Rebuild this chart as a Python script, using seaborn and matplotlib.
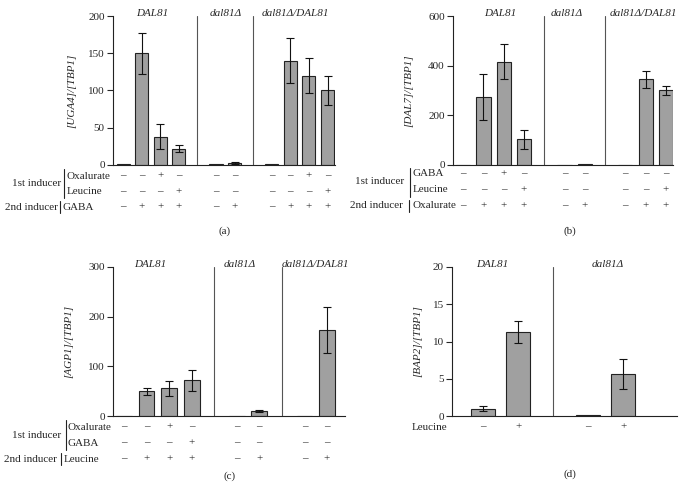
import matplotlib
matplotlib.use('Agg')
import matplotlib.pyplot as plt
import matplotlib.transforms as mtrans
from matplotlib.lines import Line2D
import numpy as np
import pandas as pd
import seaborn as sns

# (a) UGA4 / TBP1, 2nd inducer GABA
a_groups = ['DAL81', 'dal81Δ', 'dal81Δ/DAL81']
a_values = [[1, 150, 38, 22], [1, 3], [1, 140, 120, 100]]
a_low = [[np.nan, 122, 21, 18], [np.nan, 2, ], [np.nan, 110, 96, 80]]
a_high = [[np.nan, 177, 55, 27], [np.nan, 4], [np.nan, 170, 144, 120]]
a_rows = ['Oxalurate', 'Leucine', 'GABA']
a_signs = [
    [['–', '–', '+', '–'], ['–', '–'], ['–', '–', '+', '–']],
    [['–', '–', '–', '+'], ['–', '–'], ['–', '–', '–', '+']],
    [['–', '+', '+', '+'], ['–', '+'], ['–', '+', '+', '+']],
]

# (b) DAL7 / TBP1, 2nd inducer Oxalurate
b_groups = ['DAL81', 'dal81Δ', 'dal81Δ/DAL81']
b_values = [[2, 275, 415, 103], [2, 4], [2, 345, 300]]
b_low = [[np.nan, 180, 345, 65], [np.nan, np.nan], [np.nan, 312, 280]]
b_high = [[np.nan, 368, 488, 142], [np.nan, np.nan], [np.nan, 378, 320]]
b_rows = ['GABA', 'Leucine', 'Oxalurate']
b_signs = [
    [['–', '–', '+', '–'], ['–', '–'], ['–', '–', '–']],
    [['–', '–', '–', '+'], ['–', '–'], ['–', '–', '+']],
    [['–', '+', '+', '+'], ['–', '+'], ['–', '+', '+']],
]

# (c) AGP1 / TBP1, 2nd inducer Leucine
c_groups = ['DAL81', 'dal81Δ', 'dal81Δ/DAL81']
c_values = [[1, 50, 56, 72], [1, 10], [1, 173]]
c_low = [[np.nan, 43, 41, 51], [np.nan, 8], [np.nan, 126]]
c_high = [[np.nan, 57, 70, 92], [np.nan, 12], [np.nan, 219]]
c_rows = ['Oxalurate', 'GABA', 'Leucine']
c_signs = [
    [['–', '–', '+', '–'], ['–', '–'], ['–', '–']],
    [['–', '–', '–', '+'], ['–', '–'], ['–', '–']],
    [['–', '+', '+', '+'], ['–', '+'], ['–', '+']],
]

# (d) BAP2 / TBP1
d_groups = ['DAL81', 'dal81Δ']
d_values = [[1.0, 11.3], [0.2, 5.6]]
d_low = [[0.7, 9.8], [np.nan, 3.6]]
d_high = [[1.3, 12.7], [np.nan, 7.6]]
d_rows = ['Leucine']
d_signs = [[['–', '+'], ['–', '+']]]

W, H = 685, 495
sns.set_style('ticks')
plt.rcParams['font.family'] = ['Liberation Serif', 'DejaVu Serif']
FS = 8

fig = plt.figure(figsize=(W / 100, H / 100), dpi=100)


def px(x, y):
    return x / W, 1 - y / H


def add_axes(l, t, r, b):
    return fig.add_axes([l / W, 1 - b / H, (r - l) / W, (b - t) / H])


def panel(ax, groups, values, low, high, signs, ylim, yticks, gene, xlim,
          ylab_x, label_shift, sign_y):
    pos, val, lo, hi, seps, centers = [], [], [], [], [], []
    p = 0
    for g, v in enumerate(values):
        centers.append(p + (len(v) - 1) / 2)
        for i in range(len(v)):
            pos.append(p)
            val.append(v[i])
            lo.append(low[g][i])
            hi.append(high[g][i])
            p += 1
        seps.append(p)
        p += 1
    seps = seps[:-1]
    df = pd.DataFrame({'pos': pos, 'value': val})
    sns.barplot(data=df, x='pos', y='value', native_scale=True, color='#a0a0a0',
                saturation=1, edgecolor='#222222', linewidth=0.8, width=0.7,
                errorbar=None, ax=ax)
    val, lo, hi = np.array(val), np.array(lo), np.array(hi)
    ax.errorbar(pos, val, yerr=[val - lo, hi - val], fmt='none', ecolor='#111111',
                elinewidth=0.8, capsize=3.2, capthick=0.8)
    for s in seps:
        ax.axvline(s, color='#555555', lw=0.8)
    ax.set_xlim(*xlim)
    ax.set_ylim(*ylim)
    ax.set_yticks(yticks)
    ax.set_xticks([])
    ax.set_xlabel('')
    ax.set_ylabel('[' + gene + ']/[TBP1]', fontsize=FS, fontstyle='italic')
    ax.yaxis.set_label_coords(ylab_x, 0.5)
    ax.tick_params(axis='y', direction='out', length=4, width=0.8, labelsize=FS, pad=2)
    sns.despine(ax=ax)
    for sp in ['left', 'bottom']:
        ax.spines[sp].set_linewidth(0.8)
        ax.spines[sp].set_color('#222222')
    for g, name in enumerate(groups):
        ax.text(centers[g] + label_shift[g], 1.02, name, transform=ax.get_xaxis_transform(),
                ha='center', va='center', fontsize=FS, fontstyle='italic')
    tr = mtrans.blended_transform_factory(ax.transData, fig.transFigure)
    for r, row in enumerate(signs):
        flat = [s for grp in row for s in grp]
        for x, s in zip(pos, flat):
            ax.text(x, px(0, sign_y[r])[1], s, transform=tr, ha='center', va='center',
                    fontsize=FS, color='#222222')


def ftext(x, y, s, ha='left'):
    fig.text(*px(x, y), s, ha=ha, va='center', fontsize=FS)


def vline(x, y0, y1):
    fig.add_artist(Line2D([x / W, x / W], [1 - y0 / H, 1 - y1 / H], color='#222222',
                          lw=0.8, transform=fig.transFigure))


ax_a = add_axes(113, 16, 335, 165)
panel(ax_a, a_groups, a_values, a_low, a_high, a_signs, (0, 200), [0, 50, 100, 150, 200],
      'UGA4', (-0.54, 11.4), -0.165, [0.05, 0, -0.25], [176, 192, 207])
ftext(61, 184, '1st inducer', 'right')
vline(63.5, 169, 198)
ftext(66.5, 176, a_rows[0])
ftext(66.5, 192, a_rows[1])
ftext(58, 207, '2nd inducer', 'right')
vline(60, 201, 213)
ftext(62, 207, a_rows[2])
fig.text(*px(225, 231), '(a)', ha='center', va='center', fontsize=FS)

ax_b = add_axes(453, 16, 673, 165)
panel(ax_b, b_groups, b_values, b_low, b_high, b_signs, (0, 600), [0, 200, 400, 600],
      'DAL7', (-0.5, 10.35), -0.18, [0.35, -0.4, -0.1], [174, 190, 206])
ftext(404, 182, '1st inducer', 'right')
vline(409.5, 168, 197)
ftext(413, 174, b_rows[0])
ftext(413, 190, b_rows[1])
ftext(403, 206, '2nd inducer', 'right')
vline(409, 200, 212)
ftext(413, 206, b_rows[2])
fig.text(*px(570, 231), '(b)', ha='center', va='center', fontsize=FS)

ax_c = add_axes(113, 267, 345, 416)
panel(ax_c, c_groups, c_values, c_low, c_high, c_signs, (0, 300), [0, 100, 200, 300],
      'AGP1', (-0.49, 9.8), -0.172, [-0.35, -0.35, 0.0], [427, 443, 459])
ftext(61, 435, '1st inducer', 'right')
vline(65.5, 420, 450)
ftext(68, 427, c_rows[0])
ftext(68, 443, c_rows[1])
ftext(57, 459, '2nd inducer', 'right')
vline(61, 453, 465)
ftext(64, 459, c_rows[2])
fig.text(*px(230, 476), '(c)', ha='center', va='center', fontsize=FS)

ax_d = add_axes(452, 267, 677, 416)
panel(ax_d, d_groups, d_values, d_low, d_high, d_signs, (0, 20), [0, 5, 10, 15, 20],
      'BAP2', (-0.89, 5.54), -0.133, [-0.24, 0.07], [427])
ftext(447, 427, d_rows[0], 'right')
fig.text(*px(570, 474), '(d)', ha='center', va='center', fontsize=FS)

fig.savefig('out.png', dpi=100)
